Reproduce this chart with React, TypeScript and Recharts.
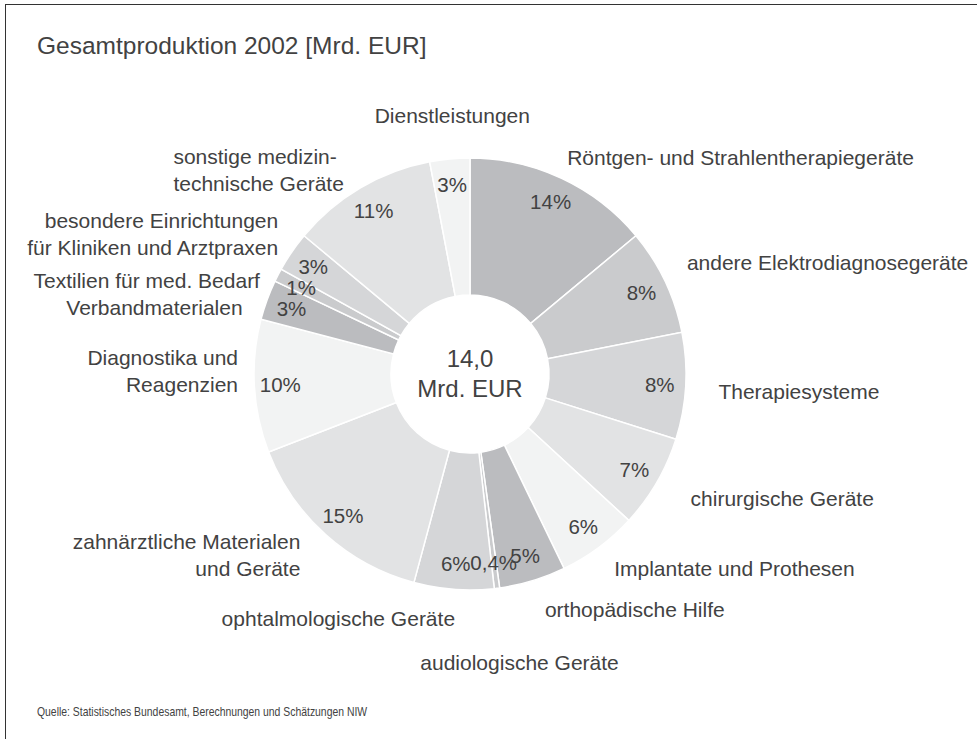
import React from 'react';
import { PieChart, Pie, Cell } from 'recharts';

// Anteile an der Gesamtproduktion 2002 (in %), im Uhrzeigersinn ab 12 Uhr
const categories: string[] = [
  'Röntgen- und Strahlentherapiegeräte',
  'andere Elektrodiagnosegeräte',
  'Therapiesysteme',
  'chirurgische Geräte',
  'Implantate und Prothesen',
  'orthopädische Hilfe',
  'audiologische Geräte',
  'ophtalmologische Geräte',
  'zahnärztliche Materialen\nund Geräte',
  'Diagnostika und\nReagenzien',
  'Verbandmaterialen',
  'Textilien für med. Bedarf',
  'besondere Einrichtungen\nfür Kliniken und Arztpraxen',
  'sonstige medizin-\ntechnische Geräte',
  'Dienstleistungen',
];
const shares: number[] = [14, 8, 8, 7, 6, 5, 0.4, 6, 15, 10, 3, 1, 3, 11, 3];
const totalText = ['14,0', 'Mrd. EUR'];

const palette = ['#bbbcbf', '#cacbcd', '#d5d6d8', '#e2e3e4', '#f2f3f3'];

// Lage der Beschriftungen: Abstand vom Mittelpunkt, Winkelkorrektur (Grad, im Uhrzeigersinn), Ausrichtung
const labelLayout: { r: number; shift: number; anchor: 'start' | 'middle' | 'end' }[] = [
  { r: 238, shift: -1, anchor: 'start' },
  { r: 244, shift: -1.8, anchor: 'start' },
  { r: 249, shift: 0.7, anchor: 'start' },
  { r: 253, shift: -0.8, anchor: 'start' },
  { r: 242, shift: 0, anchor: 'start' },
  { r: 247, shift: -0.8, anchor: 'start' },
  { r: 292, shift: -2.6, anchor: 'middle' },
  { r: 244, shift: -0.8, anchor: 'end' },
  { r: 248, shift: 1.2, anchor: 'end' },
  { r: 232, shift: 4.2, anchor: 'end' },
  { r: 237, shift: -3.7, anchor: 'end' },
  { r: 230, shift: -3.2, anchor: 'end' },
  { r: 238, shift: 1.9, anchor: 'end' },
  { r: 360, shift: -25, anchor: 'start' },
  { r: 266, shift: 18.4, anchor: 'end' },
];

const data = categories.map((name, i) => ({ name, value: shares[i] }));

const FONT = '"Liberation Sans", Arial, sans-serif';
const TEXT = '#424242';
const RAD = Math.PI / 180;

const renderLabel = (props: any) => {
  const { cx, cy, midAngle, index } = props;
  const pct = String(shares[index]).replace('.', ',') + '%';
  const ia = -midAngle * RAD;
  const px = cx + 190 * Math.cos(ia);
  const py = cy + 190 * Math.sin(ia);

  const lay = labelLayout[index];
  const oa = -(midAngle - lay.shift) * RAD;
  const lx = cx + lay.r * Math.cos(oa);
  const ly = cy + lay.r * Math.sin(oa);
  const lines = categories[index].split('\n');
  const lh = 27;

  return (
    <g key={`lbl-${index}`}>
      {index === 0 && (
        <text x={cx} y={cy} textAnchor="middle" fontFamily={FONT} fontSize={24} fill={TEXT}>
          <tspan x={cx} y={cy - 7}>{totalText[0]}</tspan>
          <tspan x={cx} y={cy + 23}>{totalText[1]}</tspan>
        </text>
      )}
      <text x={px} y={py} textAnchor="middle" dominantBaseline="central"
        fontFamily={FONT} fontSize={20.5} fill={TEXT}>
        {pct}
      </text>
      <text x={lx} y={ly} textAnchor={lay.anchor} dominantBaseline="central"
        fontFamily={FONT} fontSize={21} fill={TEXT}>
        {lines.map((ln, j) => (
          <tspan key={j} x={lx} dy={j === 0 ? -((lines.length - 1) * lh) / 2 : lh}>
            {ln}
          </tspan>
        ))}
      </text>
    </g>
  );
};

const App: React.FC = () => {
  return (
    <div style={{ position: 'absolute', left: 0, top: 0, width: 977, height: 739, overflow: 'hidden', background: '#fff' }}>
      <div style={{
        position: 'absolute', left: 5, top: 4, width: 1000, height: 800,
        borderTop: '1.5px solid #333', borderLeft: '1.5px solid #333',
      }} />
      <div style={{
        position: 'absolute', left: 37, top: 32, fontFamily: FONT, fontSize: 24.5, color: TEXT, whiteSpace: 'nowrap',
      }}>
        Gesamtproduktion 2002 [Mrd. EUR]
      </div>
      <div style={{ position: 'absolute', left: 0, top: 0 }}>
        <PieChart width={977} height={739} margin={{ top: 0, right: 0, bottom: 0, left: 0 }}>
          <Pie
            data={data}
            dataKey="value"
            nameKey="name"
            cx={470}
            cy={374}
            innerRadius={79}
            outerRadius={216}
            startAngle={90}
            endAngle={-270}
            stroke="#fff"
            strokeWidth={1.5}
            label={renderLabel}
            labelLine={false}
            isAnimationActive={false}
          >
            {data.map((d, i) => (
              <Cell key={d.name} fill={palette[i % palette.length]} />
            ))}
          </Pie>
        </PieChart>
      </div>
      <div style={{
        position: 'absolute', left: 37, top: 704, fontFamily: FONT, fontSize: 13, color: TEXT, whiteSpace: 'nowrap',
        transform: 'scaleX(0.8)', transformOrigin: 'left top',
      }}>
        Quelle: Statistisches Bundesamt, Berechnungen und Schätzungen NIW
      </div>
    </div>
  );
};

export default App;
